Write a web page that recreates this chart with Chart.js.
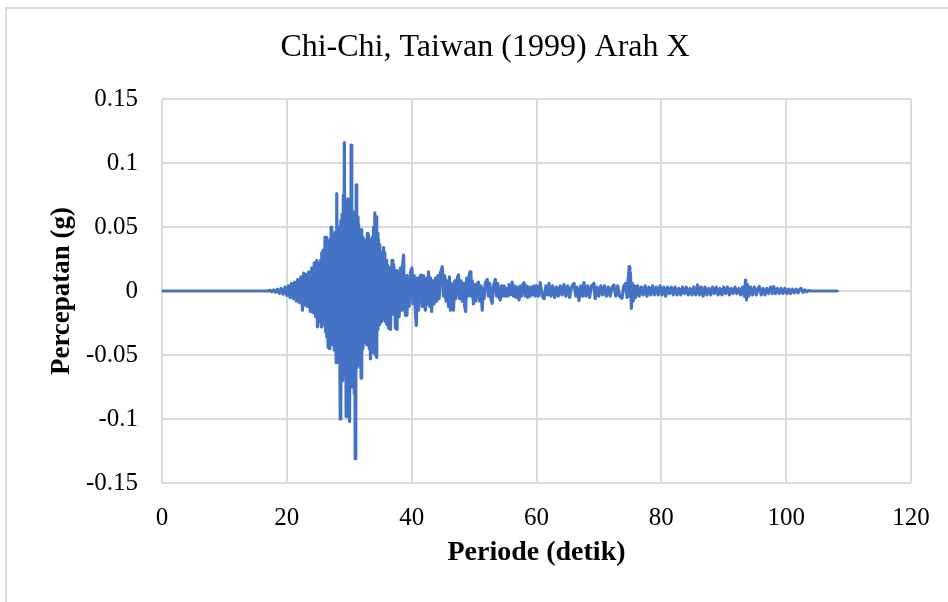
<!DOCTYPE html>
<html>
<head>
<meta charset="utf-8">
<script src="https://cdn.jsdelivr.net/npm/chart.js@4.4.1/dist/chart.umd.min.js"></script>
<style>
  html, body { margin: 0; padding: 0; background: #ffffff; overflow: hidden; }
  #frame { position: absolute; left: 5px; top: 7px; width: 980px; height: 640px; border: 2px solid #d9d9d9; box-sizing: border-box; }
  #wrap { position: absolute; left: 0; top: 0; width: 948px; height: 602px; }
</style>
</head>
<body>
<div id="frame"></div>
<div id="wrap"><canvas id="c" width="948" height="602"></canvas></div>
<script>
// ---- Data (time in seconds, acceleration in g) ----
const chartTitle = 'Chi-Chi, Taiwan (1999) Arah X';
const xAxisTitle = 'Periode (detik)';
const yAxisTitle = 'Percepatan (g)';
const xTicks = [0, 20, 40, 60, 80, 100, 120];
const yTicks = [-0.15, -0.1, -0.05, 0, 0.05, 0.1, 0.15];

const preEvent = [[0, 0], [17.0, 0]];

const onset = [
  [17.3,0.0005],[17.6,-0.0006],[17.9,0.0008],[18.2,-0.001],[18.5,0.0015],[18.8,-0.0018],
  [19.1,0.002],[19.4,-0.0025],[19.7,0.003],[20.0,-0.0035],[20.25,0.004],[20.5,-0.005],
  [20.75,0.006],[21.0,-0.006],[21.25,0.007],[21.5,-0.008],[21.75,0.009],[22.0,-0.009],
  [22.25,0.011],[22.5,-0.015],[22.7,0.014],[22.9,-0.011],[23.1,0.013],[23.3,-0.012],
  [23.5,0.015],[23.75,-0.016],[24.0,0.018],[24.2,-0.017],[24.4,0.022],[24.6,-0.020],
  [24.8,0.024],[24.9,-0.028]
];

const strongMotion = [
  [25.0,0.020],[25.1,-0.020],[25.2,0.022],[25.3,-0.024],[25.4,0.024],[25.5,-0.028],
  [25.6,0.030],[25.7,-0.024],[25.8,0.032],[25.9,-0.026],[26.0,0.030],[26.1,0.042],
  [26.2,-0.032],[26.3,0.042],[26.4,-0.036],[26.5,0.034],[26.6,-0.044],[26.7,0.036],
  [26.8,-0.045],[26.9,0.040],[27.0,-0.038],[27.1,0.050],[27.2,-0.040],[27.3,0.044],
  [27.4,-0.042],[27.5,0.040],[27.6,-0.046],[27.75,0.046],[27.9,-0.056],[28.0,0.076],
  [28.1,-0.050],[28.2,0.048],[28.3,-0.052],[28.4,0.050],[28.55,-0.100],[28.65,0.055],
  [28.75,-0.060],[28.85,0.060],[28.95,-0.070],[29.05,0.075],[29.12,-0.060],[29.22,0.116],
  [29.32,-0.065],[29.4,0.070],[29.5,-0.098],[29.58,0.065],[29.68,-0.081],[29.78,0.072],
  [29.88,-0.075],[29.96,0.068],[30.05,-0.102],[30.15,0.070],[30.22,-0.070],[30.3,0.114],
  [30.4,-0.075],[30.5,0.062],[30.6,-0.070],[30.7,0.060],[30.8,-0.080],[30.87,0.055],
  [30.95,-0.131],[31.03,0.040],[31.07,-0.040],[31.12,0.083],[31.2,-0.060],[31.3,0.058],
  [31.4,-0.055],[31.5,0.052],[31.6,-0.058],[31.7,0.048],[31.8,-0.060],[31.85,0.045],
  [31.9,-0.068],[32.0,0.048],[32.1,-0.045],[32.2,0.042],[32.3,-0.040],[32.4,0.040],
  [32.45,-0.034],[32.5,0.040],[32.6,-0.040],[32.7,0.038],[32.8,-0.042],[32.9,0.045],
  [33.0,-0.040],[33.1,0.044],[33.2,-0.045],[33.3,0.038],[33.4,-0.053],[33.5,0.040],
  [33.6,-0.046],[33.7,0.042],[33.8,-0.048],[33.9,0.050],[34.0,-0.044],[34.1,0.061],
  [34.2,-0.050],[34.3,0.058],[34.4,-0.052],[34.5,0.045],[34.6,-0.030],[34.7,0.040],
  [34.8,-0.026],[34.9,0.036],[35.0,-0.024],[35.1,0.030],[35.2,-0.024],[35.3,0.030],
  [35.4,-0.022],[35.5,0.034],[35.6,-0.020],[35.7,0.030],[35.8,-0.024],[35.9,0.024],
  [36.0,-0.026]
];

const coda = [
  [36.15,0.020],[36.3,-0.029],[36.45,0.018],[36.6,-0.030],[36.85,0.024],[37.0,-0.018],
  [37.15,0.020],[37.4,-0.029],[37.5,0.016],[37.65,-0.030],[37.8,0.015],[38.0,-0.020],
  [38.2,0.018],[38.4,-0.015],[38.55,0.020],[38.7,0.028],[38.85,-0.012],[39.0,-0.019],
  [39.1,0.012],[39.25,-0.019],[39.4,0.010],[39.6,-0.012],[39.8,0.014],[40.05,0.018],
  [40.2,-0.010],[40.4,0.012],[40.6,-0.018],[40.75,-0.027],[40.9,0.010],[41.1,-0.015],
  [41.3,0.011],[41.5,0.0125],[41.7,-0.012],[41.9,0.012],[42.05,-0.010],[42.2,-0.015],
  [42.4,0.010],[42.6,-0.010],[42.7,0.015],[42.9,-0.012],[43.05,0.010],[43.2,-0.016],
  [43.4,0.008],[43.6,-0.010],[43.8,0.010],[44.0,-0.008],[44.2,0.012],[44.4,-0.006],
  [44.6,0.014],[44.9,0.019],[45.1,-0.004],[45.3,0.012],[45.5,-0.008],[45.7,0.008],
  [45.9,-0.012],[46.05,0.011],[46.2,-0.015],[46.35,0.006],[46.5,-0.010],[46.7,-0.015],
  [46.9,0.008],[47.1,-0.006],[47.3,0.010],[47.5,0.0125],[47.7,-0.006],[47.9,0.008],
  [48.1,-0.008],[48.3,0.006],[48.5,-0.012],[48.65,-0.016],[48.8,0.010],[49.0,-0.004],
  [49.2,0.012],[49.35,0.015],[49.5,-0.004],[49.7,0.008],[49.9,-0.010],[50.1,0.005],
  [50.3,-0.008],[50.5,0.006],[50.7,0.007],[50.9,-0.008],[51.1,0.004],[51.3,-0.015],
  [51.45,0.002],[51.6,-0.006],[51.8,0.006],[52.1,0.009],[52.3,-0.004],[52.5,0.006],
  [52.7,-0.006],[52.9,-0.0096],[53.1,0.004],[53.4,0.009],[53.6,-0.004],[53.8,0.006],
  [54.0,-0.005],[54.2,-0.007],[54.4,0.004],[54.6,-0.004],[54.8,0.004],[55.0,-0.004],
  [55.2,0.002],[55.4,-0.004],[55.6,0.005],[55.8,-0.003],[56.1,0.007],[56.3,-0.004],
  [56.5,0.004],[56.7,-0.005],[56.9,0.003],[57.2,-0.007],[57.4,0.004],[57.6,-0.004],
  [57.8,0.005],[58.0,0.0065],[58.2,-0.004],[58.4,0.004],[58.6,-0.005],[58.8,0.003],
  [59.0,-0.004],[59.2,0.003],[59.4,-0.003],[59.6,0.004],[59.8,-0.004]
];

const tail = [
  [60.0,0.004],[60.3,-0.004],[60.6,0.0065],[60.9,-0.004],[61.2,-0.006],[61.5,0.004],
  [61.8,-0.003],[62.0,0.006],[62.3,-0.004],[62.6,0.004],[62.9,-0.005],[63.2,0.003],
  [63.5,-0.004],[63.8,0.004],[64.1,-0.003],[64.4,0.005],[64.7,-0.004],[65.0,0.004],
  [65.3,-0.005],[65.6,0.003],[66.0,0.006],[66.3,-0.004],[66.5,0.003],[66.8,-0.0075],
  [67.1,0.004],[67.4,-0.004],[67.6,0.0065],[67.9,-0.004],[68.2,0.004],[68.5,-0.005],
  [68.8,0.004],[69.2,0.006],[69.4,-0.006],[69.7,0.003],[70.0,-0.004],[70.3,0.004],
  [70.6,-0.003],[70.9,0.004],[71.2,-0.004],[71.5,0.003],[71.8,-0.004],[72.1,0.003],
  [72.4,0.0047],[72.7,-0.004],[73.0,0.004],[73.3,-0.004],[73.7,-0.0057],[74.0,0.004],
  [74.3,0.006],[74.5,-0.005],[74.7,0.010],[74.85,0.019],[74.95,-0.004],[75.05,0.014],
  [75.2,-0.0135],[75.35,0.006],[75.5,-0.008],[75.7,0.004],[75.9,-0.005],[76.2,0.004],
  [76.5,-0.004],[76.8,0.003],[77.1,-0.003],[77.4,0.004],[77.7,-0.004],[78.0,0.003],
  [78.3,-0.003],[78.6,0.004],[78.9,-0.003],[79.2,0.003],[79.5,-0.003],[79.8,0.004],
  [80.1,-0.003],[80.4,0.003],[80.7,-0.004],[81.0,0.003],[81.3,-0.002],[81.6,0.003],
  [81.9,-0.003],[82.2,0.003],[82.5,-0.003],[82.8,0.002],[83.1,-0.003],[83.4,0.003],
  [83.7,-0.002],[84.0,0.003],[84.3,-0.003],[84.6,0.002],[84.9,-0.003],[85.2,0.003],
  [85.5,-0.003],[85.8,0.0047],[86.1,-0.003],[86.4,0.003],[86.7,-0.004],[87.0,0.003],
  [87.3,-0.003],[87.6,0.002],[87.9,-0.003],[88.2,0.003],[88.5,-0.002],[88.8,0.003],
  [89.1,-0.003],[89.4,0.002],[89.7,-0.003],[90.0,0.003],[90.3,-0.002],[90.6,0.003],
  [90.9,-0.003],[91.2,0.002],[91.5,-0.002],[91.8,0.003],[92.1,-0.002],[92.4,0.002],
  [92.7,-0.003],[93.0,0.003],[93.3,-0.004],[93.5,0.0086],[93.65,-0.007],[93.8,0.005],
  [94.0,-0.004],[94.3,0.003],[94.6,-0.003],[94.9,0.003],[95.2,-0.003],[95.5,0.002],
  [95.7,0.0035],[96.0,-0.003],[96.3,0.002],[96.6,-0.003],[96.9,0.002],[97.2,-0.002],
  [97.5,0.003],[97.8,-0.002],[98.0,0.0035],[98.3,-0.002],[98.6,0.002],[98.9,-0.002],
  [99.2,0.002],[99.5,-0.002],[99.8,0.002],[100.1,-0.002],[100.4,0.0015],[100.7,-0.002],
  [101.0,0.0015],[101.3,-0.0015],[101.6,0.0015],[101.9,-0.0015],[102.2,0.0015],[102.4,0.002],
  [102.7,-0.001],[103.0,0.0008],[103.3,-0.0006],[103.6,0.0004],[104.0,0],[108.2,0]
];

// ---- Build chart ----
const points = [].concat(preEvent, onset, strongMotion, coda, tail).map(p => ({x: p[0], y: p[1]}));

const serif = "'Liberation Serif', 'Times New Roman', serif";
const gridColor = '#d9d9d9';

new Chart(document.getElementById('c'), {
  type: 'line',
  data: {
    datasets: [{
      data: points,
      borderColor: '#4472C4',
      borderWidth: 3.2,
      borderJoinStyle: 'round',
      borderCapStyle: 'round',
      pointRadius: 0,
      tension: 0,
      fill: false
    }]
  },
  options: {
    responsive: false,
    animation: false,
    events: [],
    layout: { padding: { left: 30, right: 8, top: 0, bottom: 0 } },
    plugins: {
      legend: { display: false },
      tooltip: { enabled: false },
      title: {
        display: true,
        text: chartTitle,
        color: '#000000',
        font: { family: serif, size: 32, weight: 'normal', lineHeight: 1.2 },
        padding: { top: 28.8, bottom: 31.8 }
      }
    },
    scales: {
      x: {
        type: 'linear',
        min: xTicks[0],
        max: xTicks[xTicks.length - 1],
        afterBuildTicks: (s) => { s.ticks = xTicks.map(v => ({value: v})); },
        afterFit: (s) => { s.height = 119; s.paddingLeft = 0; s.paddingRight = 37; },
        grid: { color: gridColor, lineWidth: 2, drawTicks: false },
        border: { display: false },
        ticks: {
          color: '#000000',
          font: { family: serif, size: 25 },
          padding: 20,
          maxRotation: 0,
          autoSkip: false,
          callback: (v) => String(v)
        },
        title: {
          display: true,
          text: xAxisTitle,
          color: '#000000',
          font: { family: serif, size: 28, weight: 'bold', lineHeight: 1.2 },
          padding: { top: 0, bottom: 32 }
        }
      },
      y: {
        type: 'linear',
        min: yTicks[0],
        max: yTicks[yTicks.length - 1],
        afterBuildTicks: (s) => { s.ticks = yTicks.map(v => ({value: v})); },
        afterFit: (s) => { s.width = 132; s.paddingTop = 0; s.paddingBottom = 0; },
        grid: { color: gridColor, lineWidth: 2, drawTicks: false },
        border: { display: false },
        ticks: {
          color: '#000000',
          font: { family: serif, size: 25 },
          padding: 24,
          autoSkip: false,
          callback: (v) => String(Number(Number(v).toFixed(2)))
        },
        title: {
          display: true,
          text: yAxisTitle,
          color: '#000000',
          font: { family: serif, size: 27, weight: 'bold', lineHeight: 1.2 },
          padding: { top: 15.8, bottom: 0 }
        }
      }
    }
  }
});
</script>
</body>
</html>
